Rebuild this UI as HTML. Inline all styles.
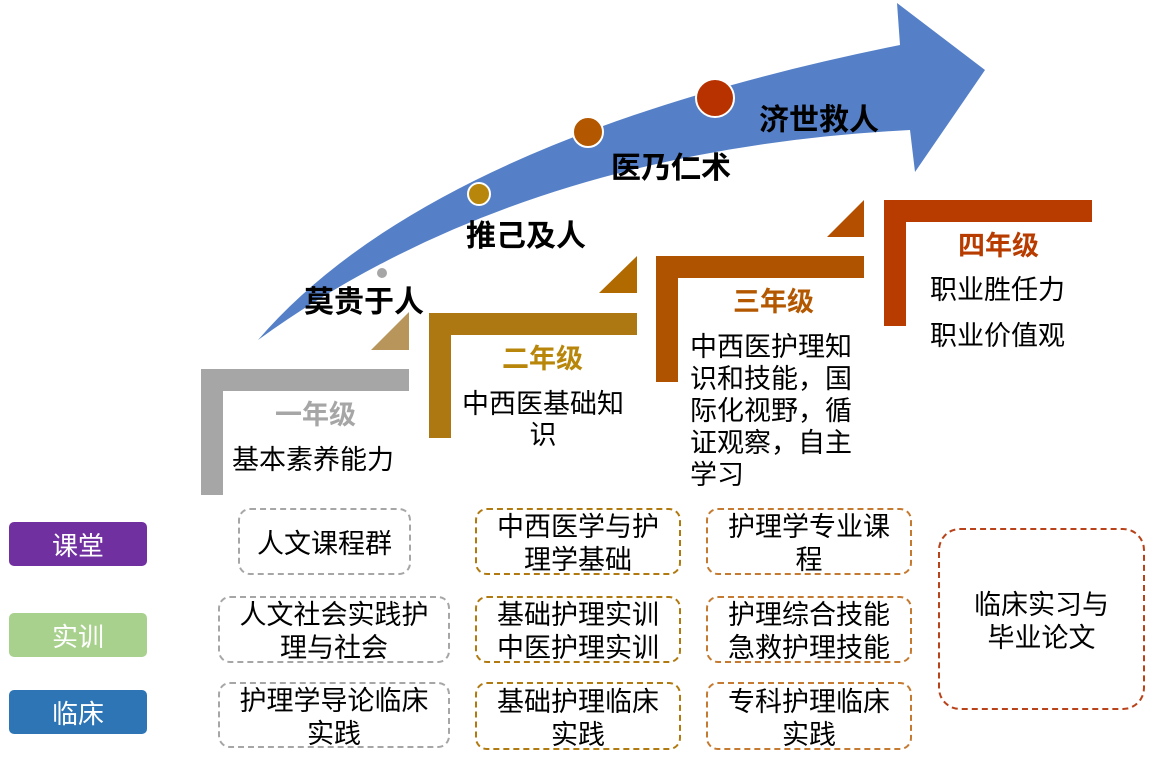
<!DOCTYPE html>
<html><head><meta charset="utf-8"><style>
body{margin:0;width:1155px;height:759px;background:#fff;position:relative;overflow:hidden;font-family:"Liberation Sans","Noto Sans CJK SC",sans-serif}
.a{position:absolute}
.t{position:absolute;font-size:27px;color:#000;line-height:32px;white-space:nowrap}
.b{position:absolute;border:2px dashed;border-radius:12px;box-sizing:border-box;display:flex;align-items:center;justify-content:center;text-align:center;font-size:27px;line-height:33px;white-space:nowrap;padding-top:5px}
.g{border-color:#a6a6a6}.o{border-color:#b07a10}.r{border-color:#c47a30}.rr{border-color:#b8431a}
.lab{position:absolute;left:9px;width:138px;height:44px;border-radius:5px;color:#fff;font-size:26px;display:flex;align-items:center;justify-content:center}
</style></head><body>
<svg class="a" style="left:0;top:0" width="1155" height="759">
<path d="M258,340 Q430,140 900,45 L897,3 L985,70 L915,172 L910,130 Q520,150 258,340 Z" fill="#5580C8"/>
<circle cx="382" cy="273" r="5" fill="#a6a6a6"/>
<circle cx="479" cy="194" r="11" fill="#B8860B" stroke="#fff" stroke-width="2"/>
<circle cx="588" cy="132" r="15" fill="#B35800" stroke="#fff" stroke-width="2"/>
<circle cx="715" cy="98" r="19" fill="#B83200" stroke="#fff" stroke-width="2"/>
<path d="M201,369H409V391H223V495H201Z" fill="#A6A6A6"/>
<path d="M371,350L409,312V350Z" fill="#B8955A"/>
<path d="M429,313H637V335H451V438H429Z" fill="#AD7812"/>
<path d="M599,293L637,256V293Z" fill="#B06A00"/>
<path d="M656,256H864V278H678V382H656Z" fill="#B05300"/>
<path d="M827,237L864,200V237Z" fill="#B54F00"/>
<path d="M884,200H1092V222H906V326H884Z" fill="#B83C00"/>
</svg>
<div class="t" style="left:304px;top:287px;font-size:30px;font-weight:bold">莫贵于人</div>
<div class="t" style="left:466px;top:221px;font-size:30px;font-weight:bold">推己及人</div>
<div class="t" style="left:611px;top:153px;font-size:30px;font-weight:bold">医乃仁术</div>
<div class="t" style="left:759px;top:105px;font-size:30px;font-weight:bold">济世救人</div>
<div class="t" style="left:275px;top:399px;font-weight:bold;color:#a6a6a6">一年级</div>
<div class="t" style="left:232px;top:444px">基本素养能力</div>
<div class="t" style="left:502px;top:343px;font-weight:bold;color:#B8860B">二年级</div>
<div class="t" style="left:462px;top:389px;line-height:31px;text-align:center">中西医基础知<br>识</div>
<div class="t" style="left:733px;top:286px;font-weight:bold;color:#B35800">三年级</div>
<div class="t" style="left:690px;top:331px;line-height:32px">中西医护理知<br>识和技能，国<br>际化视野，循<br>证观察，自主<br>学习</div>
<div class="t" style="left:958px;top:230px;font-weight:bold;color:#B83C00">四年级</div>
<div class="t" style="left:930px;top:274px">职业胜任力</div>
<div class="t" style="left:930px;top:320px">职业价值观</div>
<div class="lab" style="top:522px;background:#7030A0">课堂</div>
<div class="lab" style="top:613px;background:#A9D18E">实训</div>
<div class="lab" style="top:690px;background:#2E75B6">临床</div>
<div class="b g" style="left:238px;top:508px;width:173px;height:67px">人文课程群</div>
<div class="b g" style="left:218px;top:596px;width:232px;height:67px">人文社会实践护<br>理与社会</div>
<div class="b g" style="left:218px;top:682px;width:232px;height:66px">护理学导论临床<br>实践</div>
<div class="b o" style="left:475px;top:508px;width:206px;height:67px">中西医学与护<br>理学基础</div>
<div class="b o" style="left:475px;top:596px;width:206px;height:67px">基础护理实训<br>中医护理实训</div>
<div class="b o" style="left:475px;top:682px;width:206px;height:68px">基础护理临床<br>实践</div>
<div class="b r" style="left:706px;top:508px;width:206px;height:67px">护理学专业课<br>程</div>
<div class="b r" style="left:706px;top:596px;width:206px;height:67px">护理综合技能<br>急救护理技能</div>
<div class="b r" style="left:706px;top:682px;width:206px;height:68px">专科护理临床<br>实践</div>
<div class="b rr" style="left:938px;top:528px;width:207px;height:182px;border-radius:22px">临床实习与<br>毕业论文</div>
</body></html>
